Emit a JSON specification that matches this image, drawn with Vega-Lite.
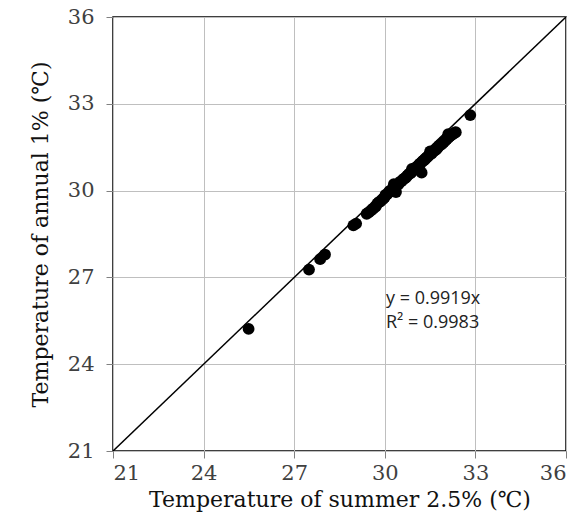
{
  "$schema": "https://vega.github.io/schema/vega-lite/v6.json",
  "autosize": {"type": "none"},
  "padding": {"left": 113, "top": 17, "right": 21, "bottom": 74},
  "width": 453,
  "height": 434,
  "background": "white",
  "config": {
    "view": {"stroke": "black", "strokeWidth": 1.5},
    "axis": {
      "labelFont": "DejaVu Serif",
      "labelFontSize": 21,
      "labelColor": "#404040",
      "titleFont": "DejaVu Serif",
      "titleFontSize": 22,
      "titleFontWeight": "normal",
      "titleColor": "#111111",
      "gridColor": "#bfbfbf",
      "gridWidth": 1,
      "tickColor": "#808080",
      "tickSize": 7,
      "domain": false
    }
  },
  "layer": [
    {
      "data": {"values": [{"x": 21, "y": 21}, {"x": 36, "y": 36}]},
      "mark": {"type": "line", "color": "black", "strokeWidth": 1.5, "clip": true},
      "encoding": {
        "x": {"field": "x", "type": "quantitative", "scale": {"domain": [21, 36], "nice": false}, "axis": {"values": [21, 24, 27, 30, 33, 36], "title": "Temperature of summer 2.5% (℃)", "labelPadding": 4, "titlePadding": 6}},
        "y": {"field": "y", "type": "quantitative", "scale": {"domain": [21, 36], "nice": false}, "axis": {"values": [21, 24, 27, 30, 33, 36], "title": "Temperature of annual  1% (℃)", "labelPadding": 12, "titlePadding": 15}}
      }
    },
    {
      "data": {"values": [
        {"x": 25.49, "y": 25.22}, {"x": 27.49, "y": 27.27}, {"x": 27.86, "y": 27.63}, {"x": 28.02, "y": 27.79},
        {"x": 28.96, "y": 28.8}, {"x": 29.05, "y": 28.86}, {"x": 29.4, "y": 29.2}, {"x": 29.47, "y": 29.25},
        {"x": 29.55, "y": 29.32}, {"x": 29.62, "y": 29.38}, {"x": 29.7, "y": 29.45}, {"x": 29.75, "y": 29.55},
        {"x": 29.8, "y": 29.6}, {"x": 29.85, "y": 29.62}, {"x": 29.9, "y": 29.68}, {"x": 29.95, "y": 29.72},
        {"x": 30.0, "y": 29.78}, {"x": 30.02, "y": 29.85}, {"x": 30.08, "y": 29.88}, {"x": 30.12, "y": 29.92},
        {"x": 30.15, "y": 29.98}, {"x": 30.2, "y": 30.0}, {"x": 30.25, "y": 30.05}, {"x": 30.28, "y": 30.1},
        {"x": 30.32, "y": 30.12}, {"x": 30.37, "y": 29.95}, {"x": 30.4, "y": 30.18}, {"x": 30.45, "y": 30.22},
        {"x": 30.5, "y": 30.3}, {"x": 30.55, "y": 30.32}, {"x": 30.6, "y": 30.38}, {"x": 30.65, "y": 30.42},
        {"x": 30.7, "y": 30.45}, {"x": 30.75, "y": 30.52}, {"x": 30.8, "y": 30.58}, {"x": 30.85, "y": 30.6},
        {"x": 30.9, "y": 30.65}, {"x": 30.95, "y": 30.72}, {"x": 31.0, "y": 30.78}, {"x": 31.05, "y": 30.8},
        {"x": 31.1, "y": 30.85}, {"x": 31.15, "y": 30.92}, {"x": 31.2, "y": 30.95}, {"x": 31.22, "y": 30.62},
        {"x": 31.25, "y": 31.02}, {"x": 31.3, "y": 31.05}, {"x": 31.35, "y": 31.1}, {"x": 31.4, "y": 31.15},
        {"x": 31.45, "y": 31.2}, {"x": 31.5, "y": 31.25}, {"x": 31.55, "y": 31.28}, {"x": 31.6, "y": 31.35},
        {"x": 31.65, "y": 31.38}, {"x": 31.7, "y": 31.42}, {"x": 31.75, "y": 31.48}, {"x": 31.8, "y": 31.55},
        {"x": 31.85, "y": 31.58}, {"x": 31.9, "y": 31.62}, {"x": 31.95, "y": 31.68}, {"x": 32.0, "y": 31.72},
        {"x": 32.05, "y": 31.78}, {"x": 32.1, "y": 31.82}, {"x": 32.15, "y": 31.88}, {"x": 32.2, "y": 31.92},
        {"x": 32.25, "y": 31.95}, {"x": 32.32, "y": 32.0}, {"x": 32.35, "y": 32.02}, {"x": 32.83, "y": 32.61},
        {"x": 30.9, "y": 30.75}, {"x": 31.5, "y": 31.35}, {"x": 32.1, "y": 31.95}, {"x": 30.3, "y": 30.22}
      ]},
      "mark": {"type": "circle", "color": "black", "opacity": 1, "size": 140},
      "encoding": {
        "x": {"field": "x", "type": "quantitative"},
        "y": {"field": "y", "type": "quantitative"}
      }
    },
    {
      "data": {"values": [
        {"x": 30.04, "y": 26.08, "label": "y = 0.9919x"},
        {"x": 30.04, "y": 25.24, "label": "R² = 0.9983"}
      ]},
      "mark": {"type": "text", "align": "left", "baseline": "alphabetic", "font": "Open Sans", "fontSize": 18, "color": "#222222"},
      "encoding": {
        "x": {"field": "x", "type": "quantitative"},
        "y": {"field": "y", "type": "quantitative"},
        "text": {"field": "label"}
      }
    }
  ]
}
